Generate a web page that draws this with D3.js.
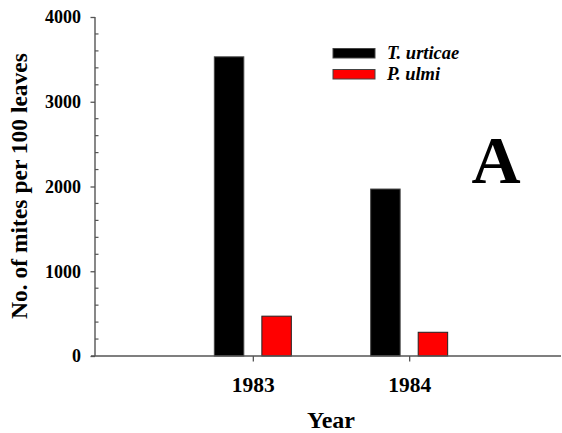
<!DOCTYPE html>
<html>
<head>
<meta charset="utf-8">
<script src="https://cdn.jsdelivr.net/npm/d3@7"></script>
<style>
  html, body { margin: 0; padding: 0; background: #fff; }
  svg { display: block; }
  text { font-family: "Liberation Serif", "Times New Roman", serif; font-weight: bold; fill: #000; }
</style>
</head>
<body>
<svg id="chart" width="562" height="433"></svg>
<script>
// Mite counts per 100 leaves, by year and species
const years = [1983, 1984];
const species = ["T. urticae", "P. ulmi"];
const urticae = [3530, 1970];
const ulmi = [470, 280];
const yTicks = [0, 1000, 2000, 3000, 4000];
const yMinorTicks = [200, 400, 600, 800, 1200, 1400, 1600, 1800, 2200, 2400, 2600, 2800, 3200, 3400, 3600, 3800];
const colors = ["#000000", "#ff0000"];

const seriesValues = [urticae, ulmi];
const svg = d3.select("#chart");

const x = d3.scaleLinear().domain([1982, 1985]).range([96.5, 565.5]);
const y = d3.scaleLinear().domain([0, 4000]).range([356, 17]);
const inner = d3.scaleBand().domain(species).range([-38.5, 38.5]).paddingInner(0.38).paddingOuter(0);

const axisColor = "#555";

// bars
species.forEach((s, si) => {
  svg.append("g").selectAll("rect")
    .data(years.map((yr, i) => ({ yr, v: seriesValues[si][i] })))
    .join("rect")
    .attr("x", d => x(d.yr) + inner(s))
    .attr("width", inner.bandwidth())
    .attr("y", d => y(d.v))
    .attr("height", d => y(0) - y(d.v))
    .attr("fill", colors[si])
    .attr("stroke", si === 0 ? "#444" : "#222")
    .attr("stroke-width", 1);
});

// y axis: major ticks outward, minor ticks inward
const yAxis = svg.append("g").attr("transform", "translate(95,0)")
  .call(d3.axisLeft(y).tickValues(yTicks).tickSize(4.5).tickPadding(9.5).tickFormat(d3.format("d")));
yAxis.select(".domain").remove();
yAxis.selectAll(".tick line").attr("stroke", axisColor).attr("stroke-width", 1.3);
yAxis.selectAll(".tick text").attr("font-size", 18);
svg.append("g").selectAll("line").data(yMinorTicks).join("line")
  .attr("x1", 95).attr("x2", 98.5)
  .attr("y1", d => y(d)).attr("y2", d => y(d))
  .attr("stroke", axisColor).attr("stroke-width", 1.2);
svg.append("line").attr("x1", 95).attr("x2", 95).attr("y1", y(4000)).attr("y2", y(0))
  .attr("stroke", axisColor).attr("stroke-width", 1.4);

// x axis
const xAxis = svg.append("g").attr("transform", `translate(0,${y(0)})`)
  .call(d3.axisBottom(x).tickValues(years).tickSize(5.5).tickPadding(15).tickFormat(d3.format("d")));
xAxis.select(".domain").remove();
xAxis.selectAll(".tick line").attr("stroke", axisColor).attr("stroke-width", 1.3);
xAxis.selectAll(".tick text").attr("font-size", 21.5);
svg.append("line").attr("x1", 91).attr("x2", 561).attr("y1", y(0)).attr("y2", y(0))
  .attr("stroke", axisColor).attr("stroke-width", 1.4);

// axis titles
svg.append("text")
  .attr("transform", "translate(27,186) rotate(-90)")
  .attr("text-anchor", "middle")
  .attr("font-size", 23.5)
  .text("No. of mites per 100 leaves");
svg.append("text")
  .attr("x", 331).attr("y", 428)
  .attr("text-anchor", "middle")
  .attr("font-size", 24)
  .text("Year");

// legend
const legend = svg.append("g");
species.forEach((s, i) => {
  const g = legend.append("g").attr("transform", `translate(333,${48.5 + i * 21})`);
  g.append("rect").attr("width", 42).attr("height", 9.5)
    .attr("fill", colors[i]).attr("stroke", "#444").attr("stroke-width", 1);
  g.append("text").attr("x", 54).attr("y", 10)
    .attr("font-size", 18.5).attr("font-style", "italic")
    .text(s);
});

// panel letter
svg.append("text")
  .attr("x", 496).attr("y", 182.5)
  .attr("text-anchor", "middle")
  .attr("font-size", 68)
  .text("A");
</script>
</body>
</html>
